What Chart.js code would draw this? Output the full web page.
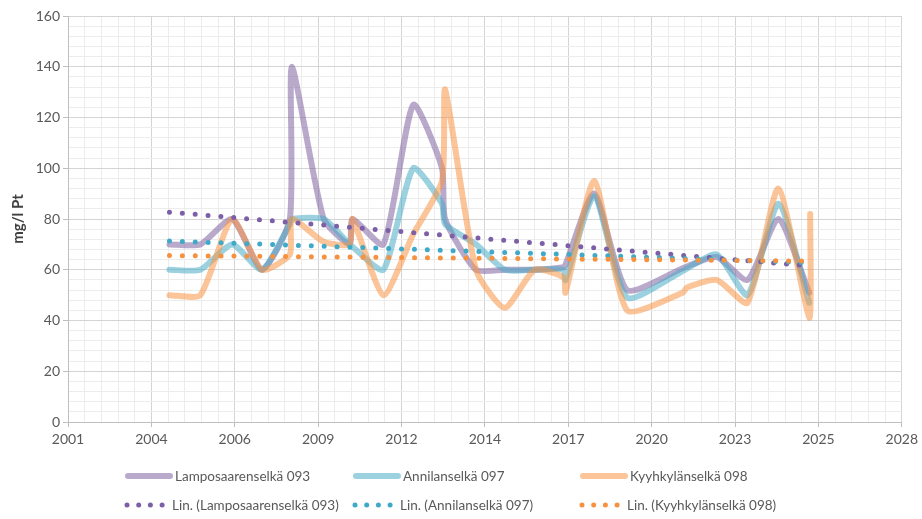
<!DOCTYPE html>
<html>
<head>
<meta charset="utf-8">
<title>Väriluku mg/l Pt</title>
<script src="https://cdn.jsdelivr.net/npm/chart.js@4/dist/chart.umd.min.js"></script>
<style>
  html, body { margin: 0; padding: 0; background: #ffffff; }
  #wrap { position: relative; width: 922px; height: 519px; }
</style>
</head>
<body>
<div id="wrap"><canvas id="chart" width="922" height="519"></canvas></div>
<script>
// Sampling stations
const seriesNames = ['Lamposaarenselkä 093', 'Annilanselkä 097', 'Kyyhkylänselkä 098'];
const trendNames = ['Lin. (Lamposaarenselkä 093)', 'Lin. (Annilanselkä 097)', 'Lin. (Kyyhkylänselkä 098)'];

// Lamposaarenselkä 093
const lampDates = ['2004-08-18', '2005-08-23', '2006-09-09', '2007-09-02', '2008-08-01', '2008-08-25',
  '2009-09-11', '2010-07-18', '2010-08-23', '2011-08-28', '2012-08-20', '2013-07-31', '2013-09-06',
  '2014-09-11', '2015-08-23', '2016-08-15', '2017-07-27', '2017-08-20', '2018-07-31', '2019-08-29',
  '2021-07-22', '2022-08-08', '2023-08-12', '2024-08-16', '2025-08-21'];
const lampValues = [70, 70, 80, 60, 80, 140,
  80, 70, 80, 70, 125, 100, 80,
  60, 60, 60, 61, 62, 90, 52,
  61, 65, 56, 80, 51];

// Annilanselkä 097
const anniDates = ['2004-08-18', '2005-08-23', '2006-09-09', '2007-09-02', '2008-08-01', '2008-08-25',
  '2009-09-11', '2010-07-18', '2010-08-23', '2011-08-28', '2012-08-20', '2013-07-31', '2013-09-06',
  '2014-09-11', '2015-08-23', '2016-08-15', '2017-07-27', '2017-08-20', '2018-07-31', '2019-08-29',
  '2021-07-22', '2022-08-08', '2023-08-12', '2024-08-16', '2025-08-21'];
const anniValues = [60, 60, 70, 60, 78, 80,
  80, 70, 69, 60, 100, 86, 78,
  70, 60, 60, 60, 56, 89, 49,
  60, 66, 50, 86, 47];

// Kyyhkylänselkä 098
const kyyhDates = ['2004-08-18', '2005-08-23', '2006-09-09', '2007-09-02', '2008-08-01', '2008-08-25',
  '2009-09-11', '2010-07-18', '2010-08-23', '2011-08-28', '2012-08-20', '2013-07-31', '2013-09-06',
  '2014-09-11', '2015-08-23', '2016-08-15', '2017-07-27', '2017-08-20', '2018-07-31', '2019-08-29',
  '2021-06-28', '2021-08-15', '2022-08-08', '2023-08-12', '2024-08-16', '2025-08-21', '2025-09-02'];
const kyyhValues = [50, 50, 80, 60, 66, 80,
  71, 70, 80, 50, 74, 95, 131,
  60, 45, 60, 57, 51, 95, 44,
  51, 53, 56, 47, 92, 41, 82];

// Linear trend end values (start, end)
const lampTrend = [82.7, 61.5];
const anniTrend = [71.3, 62.8];
const kyyhTrend = [65.6, 63.4];

// Date axis labels, one per 1000 days starting at day 37000
const yearTicks = ['2001', '2004', '2006', '2009', '2012', '2014', '2017', '2020', '2023', '2025', '2028'];

const lineColors = ['rgba(128,100,162,0.55)', 'rgba(75,172,198,0.55)', 'rgba(247,150,70,0.55)'];
const dotColors = ['#7c5fa6', '#3fa9c8', '#f5913f'];

// Spreadsheet-style day number
const EPOCH = Date.UTC(1899, 11, 30);
function dayNumber(iso) {
  const [y, m, d] = iso.split('-').map(Number);
  return (Date.UTC(y, m - 1, d) - EPOCH) / 86400000;
}
function points(dates, values) {
  return dates.map((d, i) => ({ x: dayNumber(d), y: values[i] }));
}

const allDates = [lampDates, anniDates, kyyhDates];
const allValues = [lampValues, anniValues, kyyhValues];
const allTrends = [lampTrend, anniTrend, kyyhTrend];

const datasets = [];
for (let i = 0; i < 3; i++) {
  datasets.push({
    label: seriesNames[i],
    data: points(allDates[i], allValues[i]),
    showLine: true,
    borderColor: lineColors[i],
    backgroundColor: lineColors[i],
    borderWidth: 6,
    tension: 0.2,
    pointRadius: 0,
    pointHoverRadius: 0,
    borderJoinStyle: 'round',
    borderCapStyle: 'round',
    order: 10 - i
  });
}
for (let i = 0; i < 3; i++) {
  const d = allDates[i];
  datasets.push({
    label: trendNames[i],
    data: points([d[0], d[d.length - 1]], allTrends[i]),
    showLine: true,
    borderColor: dotColors[i],
    backgroundColor: dotColors[i],
    borderWidth: 5,
    borderDash: [0, 12.9],
    borderCapStyle: 'round',
    tension: 0,
    pointRadius: 0,
    pointHoverRadius: 0,
    order: 3 - i
  });
}

const TEXT = '#595959';
const FONT = 'Lato, "Liberation Sans", sans-serif';

// Legend drawn below the plot in three fixed columns
const legendBelow = {
  id: 'legendBelow',
  afterDraw(chart) {
    const ctx = chart.ctx;
    const cols = [125, 353, 580];
    const row1 = 476, row2 = 505;
    ctx.save();
    ctx.font = '13.5px ' + FONT;
    ctx.fillStyle = TEXT;
    ctx.textBaseline = 'middle';
    ctx.textAlign = 'left';
    for (let i = 0; i < 3; i++) {
      const x0 = cols[i];
      ctx.strokeStyle = lineColors[i];
      ctx.lineWidth = 6;
      ctx.lineCap = 'round';
      ctx.beginPath();
      ctx.moveTo(x0 + 3, row1);
      ctx.lineTo(x0 + 45, row1);
      ctx.stroke();
      ctx.fillStyle = TEXT;
      ctx.fillText(seriesNames[i], x0 + 50, row1 + 1);

      ctx.fillStyle = dotColors[i];
      for (let k = 0; k < 4; k++) {
        ctx.beginPath();
        ctx.arc(x0 + 2 + k * 11.7, row2, 2.5, 0, Math.PI * 2);
        ctx.fill();
      }
      ctx.fillStyle = TEXT;
      ctx.fillText(trendNames[i], x0 + 47, row2 + 1);
    }
    ctx.restore();
  }
};

const isMajorX = v => Math.round(v) % 1000 === 0;
const isMajorY = v => Math.round(v) % 20 === 0;

new Chart(document.getElementById('chart'), {
  type: 'scatter',
  data: { datasets },
  plugins: [legendBelow],
  options: {
    responsive: false,
    animation: false,
    events: [],
    layout: { padding: { left: 0, right: 16, top: 16, bottom: 57 } },
    plugins: {
      legend: { display: false },
      tooltip: { enabled: false }
    },
    scales: {
      x: {
        type: 'linear',
        min: 37000,
        max: 47000,
        afterFit(scale) { scale.height = 40; },
        ticks: {
          stepSize: 200,
          autoSkip: false,
          maxRotation: 0,
          minRotation: 0,
          padding: 4,
          color: TEXT,
          font: { family: FONT, size: 14 },
          callback: v => isMajorX(v) ? yearTicks[Math.round((v - 37000) / 1000)] : ''
        },
        grid: {
          color: c => isMajorX(c.tick.value) ? '#d4d4d4' : '#ececec',
          lineWidth: 1,
          tickLength: 5,
          tickColor: c => isMajorX(c.tick.value) ? '#bfbfbf' : 'rgba(0,0,0,0)'
        },
        border: { color: '#bfbfbf', width: 1 }
      },
      y: {
        min: 0,
        max: 160,
        afterFit(scale) { scale.width = 68; },
        ticks: {
          stepSize: 4,
          autoSkip: false,
          padding: 3,
          color: TEXT,
          font: { family: FONT, size: 14 },
          callback: v => isMajorY(v) ? String(v) : ''
        },
        grid: {
          color: c => isMajorY(c.tick.value) ? '#d4d4d4' : '#ececec',
          lineWidth: 1,
          tickLength: 5,
          tickColor: c => isMajorY(c.tick.value) ? '#bfbfbf' : 'rgba(0,0,0,0)'
        },
        border: { color: '#bfbfbf', width: 1 },
        title: {
          display: true,
          text: 'mg/l Pt',
          color: '#404040',
          font: { family: FONT, size: 15, weight: 'bold' },
          padding: { top: 9, bottom: 0 }
        }
      }
    }
  }
});
</script>
</body>
</html>
